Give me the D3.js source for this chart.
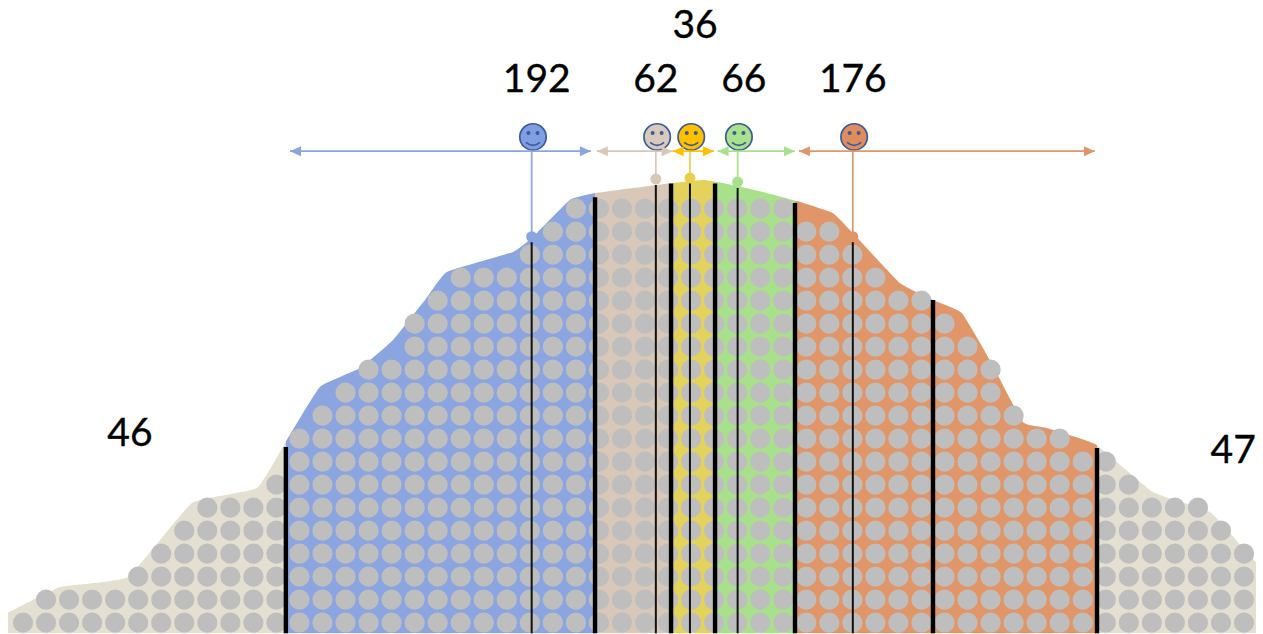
<!DOCTYPE html>
<html>
<head>
<meta charset="utf-8">
<script src="https://cdn.jsdelivr.net/npm/d3@7"></script>
<style>
html,body{margin:0;padding:0;background:#fff;overflow:hidden}
svg{display:block}
text{font-family:Lato,sans-serif;fill:#000;stroke:#000;stroke-width:0.35px}
</style>
</head>
<body>
<svg id="chart" width="1263" height="634"></svg>
<script>
// dots per column, left to right
const columnDots = [1,2,2,2,2,3,4,5,6,6,6,7,9,10,11,12,12,14,15,16,16,16,17,18,19,19,19,19,19,19,19,19,19,19,18,18,17,16,15,15,14,13,12,10,9,9,8,8,7,6,6,6,5,4];
// outline of the mountain, in column / row units
const outlineCol = [-0.65,1.6,4.56,7.33,10.16,11.5,12.89,14.63,16.06,17.45,18.4,21.27,22.13,23.74,24.98,28.21,29.52,30.38,32.12,33.6,35.15,36.02,38.06,39.5,40.75,41.97,43.4,44.44,46.53,49.05,51.52,52.96,53.52];
const outlineRow = [0.93,2.05,2.49,5.7,6.36,8.53,10.75,11.57,12.79,14.53,15.75,16.62,17.27,18.88,19.2,19.62,19.75,19.62,19.23,18.83,18.31,17.44,15.27,14.53,13.97,11.92,9.23,8.97,8.27,6.18,5.31,3.75,3.14];
// coloured regions
const regionEdges = [-0.65,11.41,24.83,28.13,30.04,33.51,46.62,53.52];
const regionColors = ["#e4e0d1","#8aa5e0","#d9c8b8","#e3d35c","#a9e08c","#e19669","#e4e0d1"];
// thick black separators
const thickCol = [11.41,24.83,28.13,30.04,33.51,39.5,46.62];
const thickTop = [8.14,19.0,19.6,19.6,18.75,14.53,8.1];
// persons: mean position, pin height, ranges
const personCol = [22.08,27.47,28.95,31.02,36.02];
const personDotRow = [17.28,19.79,19.83,19.66,17.28];
const personLineTop = [17.07,19.53,19.66,19.4,17.07];
const pinColors = ["#8aa5e0","#d9c8b8","#e8cf4c","#a9e08c","#e19669"];
const arrowColors = ["#8aa5e0","#d9c8b8","#ffc000","#a9e08c","#e19669"];
const faceColors = ["#7f9fe2","#d9c9bc","#ffc000","#a9e18c","#e18c5e"];
const arrowStart = [11.59,24.91,28.2,30.15,33.68];
const arrowEnd = [24.65,28.2,29.99,33.51,46.53];
// count labels
const labelText = ["46","192","62","36","66","176","47"];
const labelCol = [4.64,22.3,27.47,29.17,31.29,36.02,52.53];
const labelRow = [8.18,23.59,23.59,25.94,23.59,23.59,7.44];
const arrowRow = 21.0, faceRow = 21.62;

const svg = d3.select("#chart");
const x = d3.scaleLinear().domain([0,53]).range([23,1244]);
const y = d3.scaleLinear().domain([0,23]).range([634.2,105.2]);

const outline = outlineCol.map((c,i)=>[x(c),y(outlineRow[i])]);
const ridge = d3.line().curve(d3.curveCardinal.tension(0.65));
const mountainPath = ridge(outline)
  + `L${x(outlineCol[outlineCol.length-1])},${y(0)}L${x(outlineCol[0])},${y(0)}Z`;
svg.append("defs").append("clipPath").attr("id","mountain").append("path").attr("d",mountainPath);

// regions
svg.append("g").attr("clip-path","url(#mountain)")
  .selectAll("rect").data(regionColors).join("rect")
  .attr("x",(d,i)=>x(regionEdges[i]))
  .attr("width",(d,i)=>x(regionEdges[i+1])-x(regionEdges[i]))
  .attr("y",y(23)).attr("height",y(0)-y(23)-1)
  .attr("fill",d=>d);

// dots
const dots = columnDots.flatMap((n,c)=>d3.range(n).map(r=>({c,r})));
svg.append("g").selectAll("circle").data(dots).join("circle")
  .attr("cx",d=>x(d.c)).attr("cy",d=>y(d.r+0.5)).attr("r",10.1).attr("fill","#bebebe");

// black separators
svg.append("g").selectAll("line").data(thickCol).join("line")
  .attr("x1",d=>x(d)).attr("x2",d=>x(d))
  .attr("y1",(d,i)=>y(thickTop[i])).attr("y2",y(0)-1)
  .attr("stroke","#000").attr("stroke-width",4.4);
svg.append("g").selectAll("line").data(personCol).join("line")
  .attr("x1",d=>x(d)).attr("x2",d=>x(d))
  .attr("y1",(d,i)=>y(personLineTop[i])).attr("y2",y(0)-1)
  .attr("stroke","#111").attr("stroke-width",2);

// faces
const face = svg.append("g").selectAll("g").data(personCol).join("g")
  .attr("transform",d=>`translate(${x(d)+1.3},${y(faceRow)})`);
face.append("circle").attr("r",13.2).attr("fill",(d,i)=>faceColors[i]).attr("stroke","#3a5b96").attr("stroke-width",1.7);
face.selectAll("circle.eye").data([-4.5,4.5]).join("circle").attr("class","eye")
  .attr("cx",d=>d).attr("cy",-4).attr("r",2).attr("fill","#3a5b96");
face.append("path").attr("d","M-7,5.5 Q0,11.5 7,5.5").attr("fill","none").attr("stroke","#3a5b96").attr("stroke-width",1.6);

// pins
svg.append("g").selectAll("line").data(personCol).join("line")
  .attr("x1",d=>x(d)).attr("x2",d=>x(d))
  .attr("y1",y(arrowRow)).attr("y2",(d,i)=>y(personDotRow[i]))
  .attr("stroke",(d,i)=>pinColors[i]).attr("stroke-width",1.7);
svg.append("g").selectAll("circle").data(personCol).join("circle")
  .attr("cx",d=>x(d)).attr("cy",(d,i)=>y(personDotRow[i])).attr("r",5.5)
  .attr("fill",(d,i)=>pinColors[i]);

// range arrows
const arrows = svg.append("g").selectAll("g").data(arrowStart).join("g");
arrows.append("line")
  .attr("x1",d=>x(d)).attr("x2",(d,i)=>x(arrowEnd[i]))
  .attr("y1",y(arrowRow)).attr("y2",y(arrowRow))
  .attr("stroke",(d,i)=>arrowColors[i]).attr("stroke-width",1.7);
arrows.append("path")
  .attr("d",(d,i)=>{
    const a=x(d), b=x(arrowEnd[i]), m=y(arrowRow);
    return `M${a},${m}l11,-5v10ZM${b},${m}l-11,-5v10Z`;
  })
  .attr("fill",(d,i)=>arrowColors[i]);

// labels
svg.append("g").selectAll("text").data(labelText).join("text")
  .attr("x",(d,i)=>x(labelCol[i])).attr("y",(d,i)=>y(labelRow[i]))
  .attr("text-anchor","middle").attr("font-size",39).text(d=>d);
</script>
</body>
</html>
